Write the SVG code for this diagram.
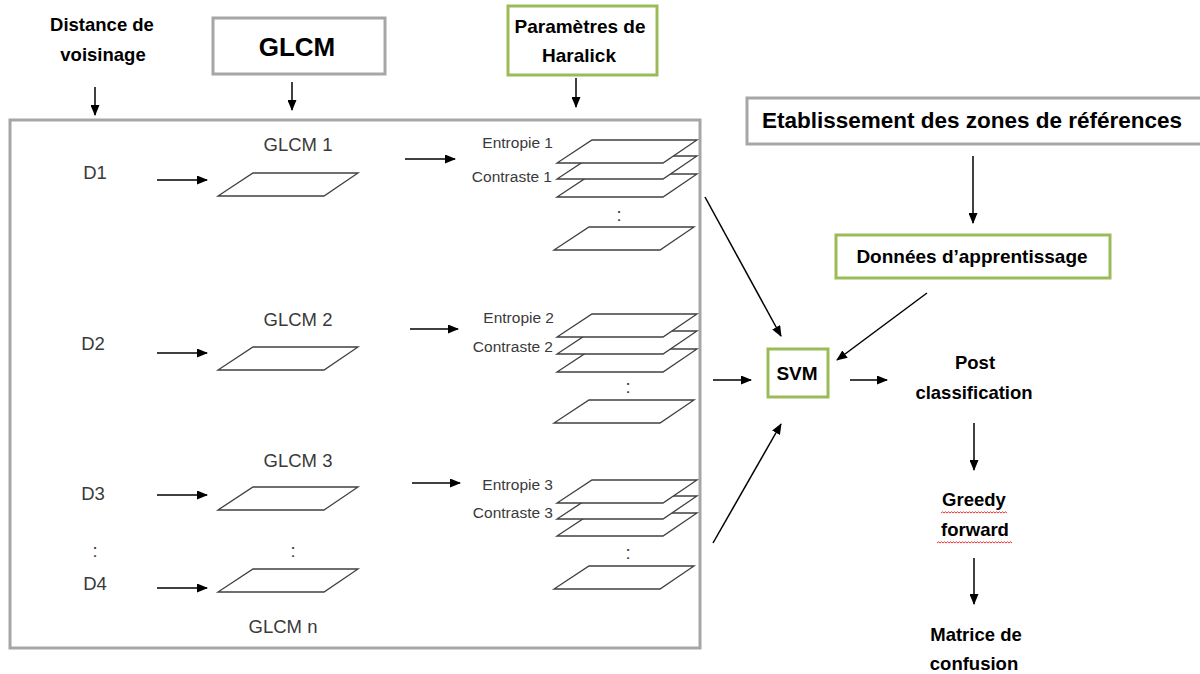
<svg xmlns="http://www.w3.org/2000/svg" xmlns:xlink="http://www.w3.org/1999/xlink" width="1200" height="674" viewBox="0 0 1200 674">
<style>
.b{font-family:"Liberation Sans",Arial,sans-serif;font-weight:bold;fill:#000;text-anchor:middle}
.r{font-family:"Liberation Sans",Arial,sans-serif;fill:#3a3a3a;font-size:18.5px;text-anchor:middle}
.s{font-family:"Liberation Sans",Arial,sans-serif;fill:#3a3a3a;font-size:15.5px;text-anchor:end}
.gray{fill:#fff;stroke:#a6a6a6;stroke-width:3}
.green{fill:#fff;stroke:#9bbb59;stroke-width:3}
.pl{fill:#fff;stroke:#404040;stroke-width:1.3}
.c line{stroke:#000;stroke-width:1.5;marker-end:url(#ah)}
.wv{fill:none;stroke:#e02020;stroke-width:0.9}
</style>
<defs>
<marker id="ah" markerWidth="11" markerHeight="9" refX="10" refY="4.5" orient="auto" markerUnits="userSpaceOnUse"><path d="M0,0 L11,4.5 L0,9 Z" fill="#000"/></marker>
<path id="plate" d="M35,0 H140 L106,23 H0 Z"/>
</defs>
<rect width="1200" height="674" fill="#fff"/>

<g id="main-box"><rect class="gray" x="10" y="120" width="690" height="528" fill="none"/></g>

<g id="distance"><text class="b" font-size="18.5" x="102" y="31">Distance de</text><text class="b" font-size="18.5" x="103" y="61">voisinage</text></g>
<g id="glcm"><rect class="gray" x="213" y="18" width="172" height="56"/><text class="b" font-size="26" x="297" y="56">GLCM</text></g>
<g id="haralick"><rect class="green" x="508" y="6" width="149" height="69"/><text class="b" font-size="19" x="580" y="33">Paramètres de</text><text class="b" font-size="19" x="579" y="62">Haralick</text></g>
<g id="etablissement"><rect class="gray" x="747" y="98" width="455" height="46"/><text class="b" font-size="22.5" x="972" y="128">Etablissement des zones de références</text></g>
<g id="donnees"><rect class="green" x="836" y="235" width="274" height="43"/><text class="b" font-size="19" x="972" y="263">Données d’apprentissage</text></g>
<g id="svm"><rect class="green" x="768" y="349" width="60" height="48"/><text class="b" font-size="19" x="797" y="380">SVM</text></g>
<g id="post"><text class="b" font-size="18.5" x="975" y="369">Post</text><text class="b" font-size="18.5" x="974" y="399">classification</text></g>
<g id="greedy"><text class="b" font-size="18.5" x="974" y="506">Greedy</text><text class="b" font-size="18.5" x="975" y="536">forward</text>
<path class="wv" d="M941,513 l1.5,-1.2 1.5,1.2 1.5,-1.2 1.5,1.2 1.5,-1.2 1.5,1.2 1.5,-1.2 1.5,1.2 1.5,-1.2 1.5,1.2 1.5,-1.2 1.5,1.2 1.5,-1.2 1.5,1.2 1.5,-1.2 1.5,1.2 1.5,-1.2 1.5,1.2 1.5,-1.2 1.5,1.2 1.5,-1.2 1.5,1.2 1.5,-1.2 1.5,1.2 1.5,-1.2 1.5,1.2 1.5,-1.2 1.5,1.2 1.5,-1.2 1.5,1.2 1.5,-1.2 1.5,1.2 1.5,-1.2 1.5,1.2 1.5,-1.2 1.5,1.2 1.5,-1.2 1.5,1.2 1.5,-1.2 1.5,1.2 1.5,-1.2 1.5,1.2 1.5,-1.2 1.5,1.2"/>
<path class="wv" d="M937,543 l1.5,-1.2 1.5,1.2 1.5,-1.2 1.5,1.2 1.5,-1.2 1.5,1.2 1.5,-1.2 1.5,1.2 1.5,-1.2 1.5,1.2 1.5,-1.2 1.5,1.2 1.5,-1.2 1.5,1.2 1.5,-1.2 1.5,1.2 1.5,-1.2 1.5,1.2 1.5,-1.2 1.5,1.2 1.5,-1.2 1.5,1.2 1.5,-1.2 1.5,1.2 1.5,-1.2 1.5,1.2 1.5,-1.2 1.5,1.2 1.5,-1.2 1.5,1.2 1.5,-1.2 1.5,1.2 1.5,-1.2 1.5,1.2 1.5,-1.2 1.5,1.2 1.5,-1.2 1.5,1.2 1.5,-1.2 1.5,1.2 1.5,-1.2 1.5,1.2 1.5,-1.2 1.5,1.2 1.5,-1.2 1.5,1.2 1.5,-1.2 1.5,1.2 1.5,-1.2 1.5,1.2"/></g>
<g id="matrice"><text class="b" font-size="18.5" x="976" y="641">Matrice de</text><text class="b" font-size="18.5" x="974" y="670">confusion</text></g>

<g id="distances">
<text class="r" x="95" y="179">D1</text>
<text class="r" x="93" y="350">D2</text>
<text class="r" x="93" y="500">D3</text>
<text class="r" x="95" y="557">:</text>
<text class="r" x="95" y="590">D4</text>
</g>

<g id="glcm-1"><text class="r" x="298" y="151">GLCM 1</text><use href="#plate" class="pl" x="218" y="173"/></g>
<g id="glcm-2"><text class="r" x="298" y="326">GLCM 2</text><use href="#plate" class="pl" x="218" y="347"/></g>
<g id="glcm-3"><text class="r" x="298" y="467">GLCM 3</text><use href="#plate" class="pl" x="218" y="487"/></g>
<g id="glcm-n"><text class="r" x="293" y="557">:</text><use href="#plate" class="pl" x="218" y="569"/><text class="r" x="283" y="633">GLCM n</text></g>

<g id="params-1">
<use href="#plate" class="pl" x="557" y="174"/><use href="#plate" class="pl" x="557" y="156"/><use href="#plate" class="pl" x="557" y="140"/>
<text class="s" x="553" y="148">Entropie 1</text><text class="s" x="552" y="182">Contraste 1</text>
<text class="r" x="619" y="221">:</text>
<use href="#plate" class="pl" x="554" y="227"/>
</g>
<g id="params-2">
<use href="#plate" class="pl" x="557" y="349"/><use href="#plate" class="pl" x="557" y="331"/><use href="#plate" class="pl" x="557" y="314"/>
<text class="s" x="554" y="323">Entropie 2</text><text class="s" x="553" y="352">Contraste 2</text>
<text class="r" x="628" y="393">:</text>
<use href="#plate" class="pl" x="554" y="400"/>
</g>
<g id="params-3">
<use href="#plate" class="pl" x="557" y="513"/><use href="#plate" class="pl" x="557" y="496"/><use href="#plate" class="pl" x="557" y="480"/>
<text class="s" x="553" y="490">Entropie 3</text><text class="s" x="553" y="518">Contraste 3</text>
<text class="r" x="628" y="559">:</text>
<use href="#plate" class="pl" x="554" y="566"/>
</g>

<g id="connectors" class="c">
<line x1="95" y1="87" x2="95" y2="115"/>
<line x1="292" y1="82" x2="292" y2="110"/>
<line x1="576" y1="78" x2="576" y2="107"/>
<line x1="157" y1="180" x2="207" y2="180"/>
<line x1="157" y1="353" x2="207" y2="353"/>
<line x1="157" y1="495" x2="207" y2="495"/>
<line x1="157" y1="588" x2="207" y2="588"/>
<line x1="405" y1="159" x2="455" y2="159"/>
<line x1="410" y1="329" x2="458" y2="329"/>
<line x1="412" y1="483" x2="460" y2="483"/>
<line x1="973" y1="156" x2="973" y2="223"/>
<line x1="927" y1="293" x2="837" y2="360"/>
<line x1="705" y1="197" x2="781" y2="336"/>
<line x1="713" y1="380" x2="751" y2="380"/>
<line x1="713" y1="543" x2="781" y2="424"/>
<line x1="850" y1="380" x2="887" y2="380"/>
<line x1="974" y1="423" x2="974" y2="470"/>
<line x1="974" y1="558" x2="974" y2="604"/>
</g>
</svg>
